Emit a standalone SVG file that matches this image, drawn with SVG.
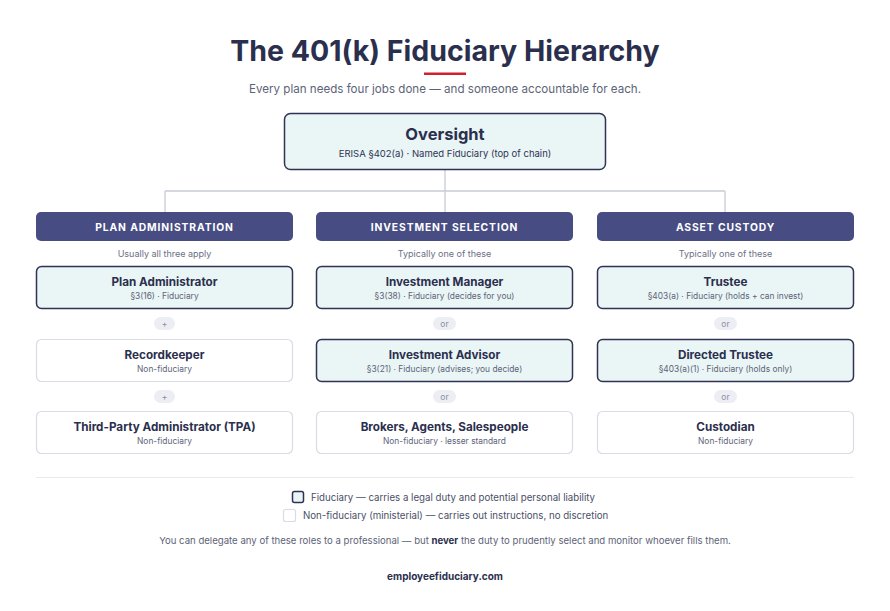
<svg xmlns="http://www.w3.org/2000/svg" width="890" height="611" viewBox="0 0 890 611">
<style>
text{font-family:Inter,"Noto Sans","Liberation Sans",sans-serif;text-anchor:middle}
.title{font-size:28.5px;font-weight:700;fill:#2b2f4e}
.sub{font-size:11.6px;fill:#5d6378}
.fid{fill:#eaf5f5;stroke:#2f3355;stroke-width:1.5}
.non{fill:#ffffff;stroke:#d9dce6;stroke-width:1.2}
.hdr{fill:#474c82}
.hdrt{font-size:10.3px;font-weight:700;fill:#ffffff;letter-spacing:0.9px}
.cap{font-size:9px;fill:#6b7085}
.bt{font-size:11.7px;font-weight:700;fill:#2b2f4e}
.bs{font-size:8.4px;fill:#5d6378}
.pill{fill:#eceef4}
.pt{font-size:8.5px;fill:#8a8fa3}
.conn{stroke:#c8ccd8;stroke-width:1.3;fill:none}
.leg{font-size:9.7px;fill:#4a4f66;text-anchor:start}
</style>
<rect width="890" height="611" fill="#ffffff"/>
<g id="header">
<text class="title" x="445" y="61">The 401(k) Fiduciary Hierarchy</text>
<rect x="424" y="72.5" width="42" height="2.5" fill="#d0202a"/>
<text class="sub" x="445" y="93">Every plan needs four jobs done — and someone accountable for each.</text>
</g>
<g id="connectors">
<path class="conn" d="M445 170V191M165 191H725M165 191V212M445 191V212M725 191V212"/>
</g>
<g id="oversight">
<rect class="fid" x="284.5" y="113.5" width="321" height="56" rx="6"/>
<text x="445" y="140" style="font-size:16.5px;font-weight:700;fill:#2b2f4e">Oversight</text>
<text x="445" y="157" style="font-size:9.5px;fill:#2f3355">ERISA §402(a) · Named Fiduciary (top of chain)</text>
</g>
<g id="col-admin">
<rect class="hdr" x="36" y="212" width="257" height="29" rx="5"/>
<text class="hdrt" x="164.5" y="230.5">PLAN ADMINISTRATION</text>
<text class="cap" x="164.5" y="257">Usually all three apply</text>
</g>
<g id="plan-administrator">
<rect class="fid" x="36.5" y="266.5" width="256" height="42" rx="5"/>
<text class="bt" x="164.5" y="286">Plan Administrator</text>
<text class="bs" x="164.5" y="299">§3(16) · Fiduciary</text>
</g>
<g id="pill-a1"><rect class="pill" x="154" y="317" width="21" height="13" rx="6.5"/><text class="pt" x="164.5" y="326.5">+</text></g>
<g id="recordkeeper">
<rect class="non" x="36.5" y="339.5" width="256" height="42" rx="5"/>
<text class="bt" x="164.5" y="358.5">Recordkeeper</text>
<text class="bs" x="164.5" y="371.5">Non-fiduciary</text>
</g>
<g id="pill-a2"><rect class="pill" x="154" y="390" width="21" height="13" rx="6.5"/><text class="pt" x="164.5" y="399.5">+</text></g>
<g id="tpa">
<rect class="non" x="36.5" y="411.5" width="256" height="42" rx="5"/>
<text class="bt" x="164.5" y="431">Third-Party Administrator (TPA)</text>
<text class="bs" x="164.5" y="444">Non-fiduciary</text>
</g>
<g id="col-invest">
<rect class="hdr" x="316" y="212" width="257" height="29" rx="5"/>
<text class="hdrt" x="444.5" y="230.5">INVESTMENT SELECTION</text>
<text class="cap" x="444.5" y="257">Typically one of these</text>
</g>
<g id="investment-manager">
<rect class="fid" x="316.5" y="266.5" width="256" height="42" rx="5"/>
<text class="bt" x="444.5" y="286">Investment Manager</text>
<text class="bs" x="444.5" y="299">§3(38) · Fiduciary (decides for you)</text>
</g>
<g id="pill-b1"><rect class="pill" x="433" y="317" width="23" height="13" rx="6.5"/><text class="pt" x="444.5" y="326.5">or</text></g>
<g id="investment-advisor">
<rect class="fid" x="316.5" y="339.5" width="256" height="42" rx="5"/>
<text class="bt" x="444.5" y="358.5">Investment Advisor</text>
<text class="bs" x="444.5" y="371.5">§3(21) · Fiduciary (advises; you decide)</text>
</g>
<g id="pill-b2"><rect class="pill" x="433" y="390" width="23" height="13" rx="6.5"/><text class="pt" x="444.5" y="399.5">or</text></g>
<g id="brokers">
<rect class="non" x="316.5" y="411.5" width="256" height="42" rx="5"/>
<text class="bt" x="444.5" y="431">Brokers, Agents, Salespeople</text>
<text class="bs" x="444.5" y="444">Non-fiduciary · lesser standard</text>
</g>
<g id="col-custody">
<rect class="hdr" x="597" y="212" width="257" height="29" rx="5"/>
<text class="hdrt" x="725.5" y="230.5">ASSET CUSTODY</text>
<text class="cap" x="725.5" y="257">Typically one of these</text>
</g>
<g id="trustee">
<rect class="fid" x="597.5" y="266.5" width="256" height="42" rx="5"/>
<text class="bt" x="725.5" y="286">Trustee</text>
<text class="bs" x="725.5" y="299">§403(a) · Fiduciary (holds + can invest)</text>
</g>
<g id="pill-c1"><rect class="pill" x="714" y="317" width="23" height="13" rx="6.5"/><text class="pt" x="725.5" y="326.5">or</text></g>
<g id="directed-trustee">
<rect class="fid" x="597.5" y="339.5" width="256" height="42" rx="5"/>
<text class="bt" x="725.5" y="358.5">Directed Trustee</text>
<text class="bs" x="725.5" y="371.5">§403(a)(1) · Fiduciary (holds only)</text>
</g>
<g id="pill-c2"><rect class="pill" x="714" y="390" width="23" height="13" rx="6.5"/><text class="pt" x="725.5" y="399.5">or</text></g>
<g id="custodian">
<rect class="non" x="597.5" y="411.5" width="256" height="42" rx="5"/>
<text class="bt" x="725.5" y="431">Custodian</text>
<text class="bs" x="725.5" y="444">Non-fiduciary</text>
</g>
<g id="footer">
<line x1="36" y1="477.5" x2="854" y2="477.5" stroke="#e8eaf0" stroke-width="1"/>
<rect class="fid" x="292.5" y="491.5" width="11" height="11" rx="2"/>
<text class="leg" x="311" y="501">Fiduciary — carries a legal duty and potential personal liability</text>
<rect class="non" x="283.5" y="509.5" width="12" height="12" rx="2"/>
<text class="leg" x="303" y="519">Non-fiduciary (ministerial) — carries out instructions, no discretion</text>
<text x="445" y="544" style="font-size:9.6px;fill:#5d6378">You can delegate any of these roles to a professional — but <tspan style="font-weight:700;fill:#2b2f4e">never</tspan> the duty to prudently select and monitor whoever fills them.</text>
<text x="445" y="580" style="font-size:10px;font-weight:700;fill:#2b2f4e">employeefiduciary.com</text>
</g>
</svg>
